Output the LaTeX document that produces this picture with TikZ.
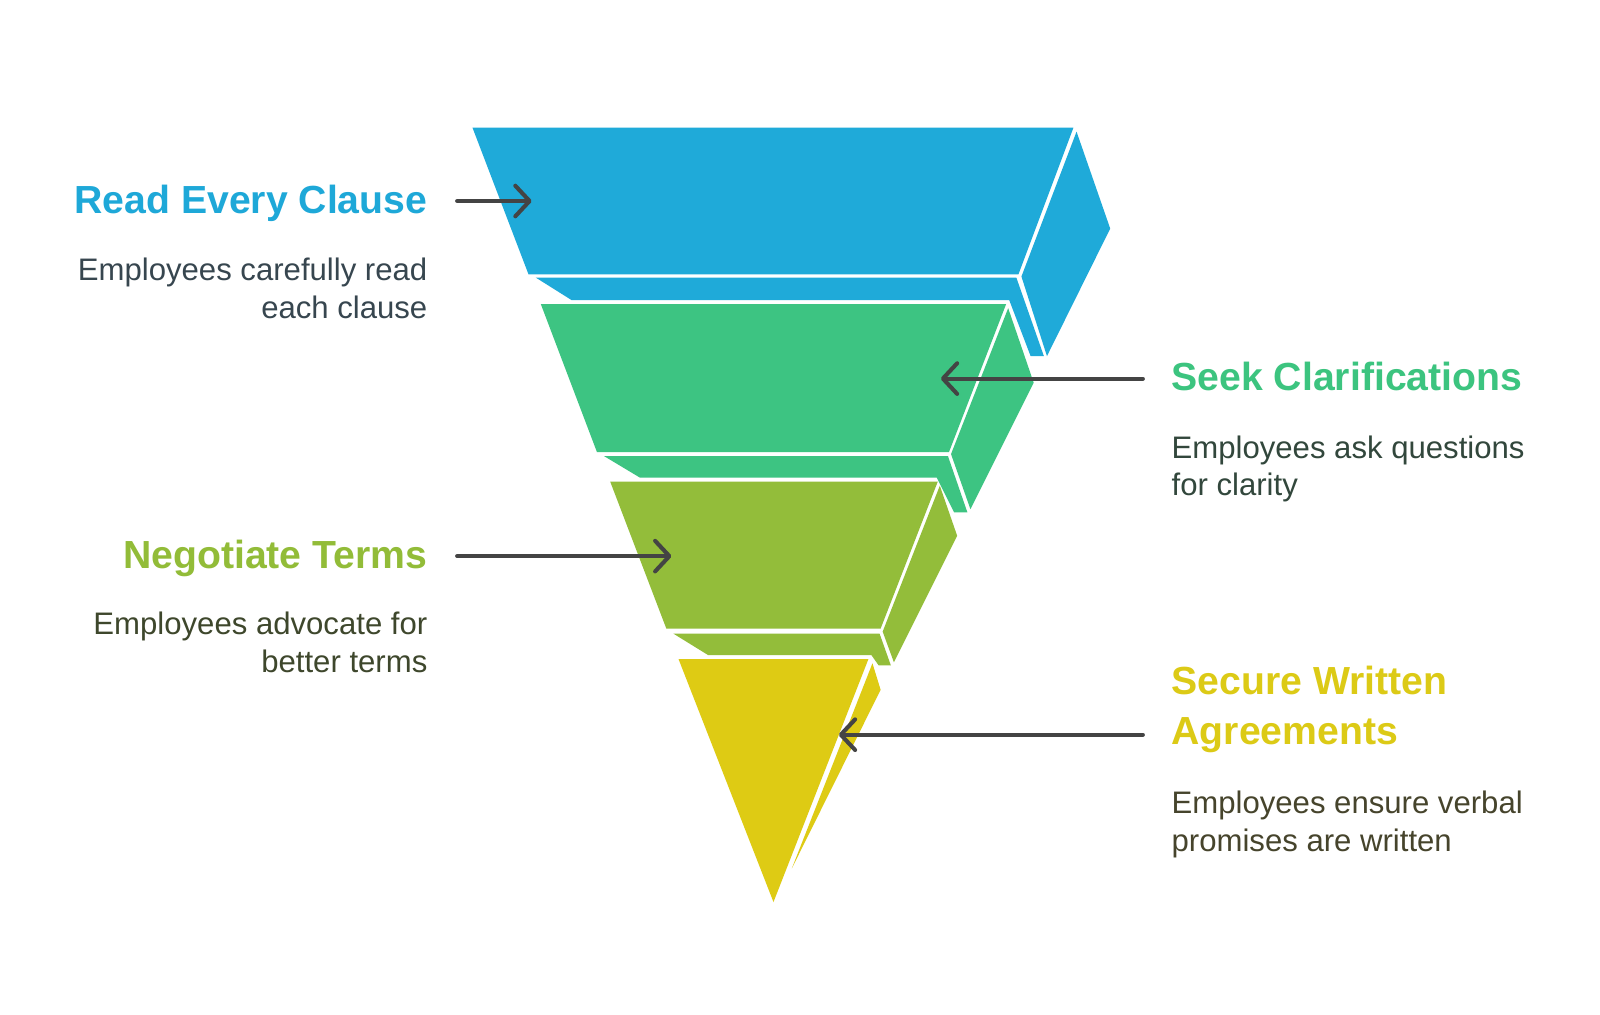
\documentclass[tikz,border=0pt]{standalone}
\usepackage{fontspec}
\setmainfont{Liberation Sans}
\usetikzlibrary{arrows.meta}
\definecolor{cblue}{HTML}{1FAAD9}
\definecolor{cgreen}{HTML}{3DC482}
\definecolor{colive}{HTML}{93BD3A}
\definecolor{cyellow}{HTML}{DECB14}
\definecolor{tblue}{HTML}{1EA8D8}
\definecolor{tgreen}{HTML}{3CC47F}
\definecolor{tolive}{HTML}{92BC38}
\definecolor{tyellow}{HTML}{DCCA16}
\definecolor{dblue}{HTML}{37464F}
\definecolor{dgreen}{HTML}{32473C}
\definecolor{dolive}{HTML}{3E472C}
\definecolor{dyellow}{HTML}{46442C}
\definecolor{arrowgray}{HTML}{444444}
\begin{document}
\begin{tikzpicture}[x=1pt,y=-1pt,
  titletext/.style={inner sep=0pt,font=\fontsize{38.4}{49}\selectfont\bfseries},
  desctext/.style={inner sep=0pt,font=\fontsize{30.5}{37}\selectfont},
  pointer/.style={draw=arrowgray,line width=4pt,line cap=round,
    -{Straight Barb[length=14pt,width=30pt,round]}}]
\useasboundingbox[fill=white] (0,0) rectangle (1568,994);
% blue layer
\fill[cblue] (463,125) -- (1052,125) -- (998,269) -- (518,269) -- cycle;
\fill[cblue] (1055,129) -- (1088,224) -- (1026,349) -- (1001,271) -- cycle;
\fill[cblue] (525,272) -- (996,272) -- (1023,349) -- (1010,349) -- (989,294) -- (560,294) -- cycle;
% green layer
\fill[cgreen] (530,298) -- (986,298) -- (930,443) -- (585,443) -- cycle;
\fill[cgreen] (988,302) -- (1013,375) -- (951,499) -- (932,445) -- cycle;
\fill[cgreen] (592,447) -- (929,447) -- (948,502) -- (935,502) -- (918,468) -- (627,468) -- cycle;
% olive layer
\fill[colive] (598,472) -- (919,472) -- (863,616) -- (653,616) -- cycle;
\fill[colive] (921,476) -- (938,525) -- (876,649) -- (865,619) -- cycle;
\fill[colive] (660,621) -- (862,621) -- (873,652) -- (861,652) -- (854,642) -- (694,642) -- cycle;
% yellow layer
\fill[cyellow] (665,646) -- (851,646) -- (758,884) -- cycle;
\fill[cyellow] (855,650) -- (863,676) -- (776,851) -- cycle;

% texts (multi-line nodes: base = last line)
\node[titletext,text=tblue,anchor=base east] (t1) at (419,209) {Read Every Clause};
\node[desctext,text=dblue,anchor=base east,align=right] (d1) at (419,312) {Employees carefully read\\each clause};
\node[titletext,text=tgreen,anchor=base west] (t2) at (1148,383) {Seek Clarifications};
\node[desctext,text=dgreen,anchor=base west,align=left] (d2) at (1148,486) {Employees ask questions\\for clarity};
\node[titletext,text=tolive,anchor=base east] (t3) at (419,557) {Negotiate Terms};
\node[desctext,text=dolive,anchor=base east,align=right] (d3) at (419,659) {Employees advocate for\\better terms};
\node[titletext,text=tyellow,anchor=base west,align=left] (t4) at (1148,730) {Secure Written\\Agreements};
\node[desctext,text=dyellow,anchor=base west,align=left] (d4) at (1148,834) {Employees ensure verbal\\promises are written};

% arrows
\coordinate (s1) at (448,197); \coordinate (e1) at (521,197);
\coordinate (s2) at (1120,371); \coordinate (e2) at (922,371);
\coordinate (s3) at (448,545); \coordinate (e3) at (658,545);
\coordinate (s4) at (1120,720); \coordinate (e4) at (822,720);
\draw[pointer] (s1) -- (e1);
\draw[pointer] (s2) -- (e2);
\draw[pointer] (s3) -- (e3);
\draw[pointer] (s4) -- (e4);
\end{tikzpicture}
\end{document}
